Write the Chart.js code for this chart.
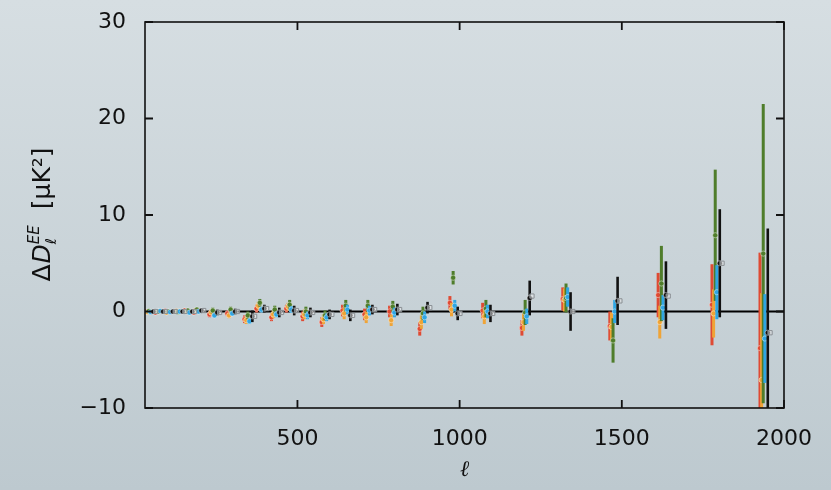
<!DOCTYPE html>
<html>
<head>
<meta charset="utf-8">
<script src="https://cdn.jsdelivr.net/npm/chart.js@4/dist/chart.umd.min.js"></script>
<style>
  html, body { margin: 0; padding: 0; }
  body {
    width: 831px; height: 490px; overflow: hidden;
    background: linear-gradient(to bottom, #d6dee2 0%, #c9d3d8 55%, #bdc9cf 100%);
  }
  #wrap { position: relative; width: 831px; height: 490px; }
</style>
</head>
<body>
<div id="wrap"><canvas id="chart" width="831" height="490"></canvas></div>
<script>
// multipole bins (centre of each group)
const ells = [47, 77, 107, 137, 167, 195, 244, 299, 352, 389, 435, 481, 531, 590,
              654, 722, 799, 892, 985, 1086, 1207, 1333, 1478, 1627, 1793, 1941];

// residuals, one array per cross-spectrum
const redVals    = [0.0, -0.1, 0.05, 0.0, 0.1, -0.1, -0.3, -0.2, -0.8, 0.3, -0.6, 0.3, -0.5, -1.1,
                    0.1, -0.3, 0.0, -1.8, 0.9, 0.1, -1.7, 1.3, -1.5, 1.7, 0.7, -3.8];
const redErr     = [0.12, 0.12, 0.12, 0.15, 0.15, 0.2, 0.3, 0.3, 0.4, 0.4, 0.4, 0.4, 0.5, 0.5,
                    0.6, 0.6, 0.6, 0.7, 0.7, 0.8, 0.8, 1.2, 1.5, 2.3, 4.2, 9.9];
const orangeVals = [-0.05, 0.0, -0.1, 0.05, 0.0, 0.1, -0.1, -0.4, -0.9, 0.6, -0.3, 0.5, -0.3, -0.8,
                    -0.2, -0.6, -0.9, -1.1, 0.2, -0.5, -1.1, 1.2, -1.6, -1.1, -0.2, -7.1];
const orangeErr  = [0.12, 0.12, 0.12, 0.15, 0.15, 0.2, 0.3, 0.3, 0.4, 0.4, 0.4, 0.4, 0.5, 0.5,
                    0.6, 0.6, 0.6, 0.7, 0.7, 0.8, 0.9, 1.2, 1.5, 1.7, 2.5, 9.0];
const greenVals  = [0.05, 0.0, 0.0, -0.05, 0.1, 0.2, 0.1, 0.2, -0.4, 0.9, 0.2, 0.7, 0.0, -0.4,
                    0.6, 0.6, 0.5, -0.2, 3.5, 0.3, -0.1, 1.4, -3.0, 2.9, 7.9, 6.0];
const greenErr   = [0.12, 0.12, 0.12, 0.15, 0.15, 0.2, 0.3, 0.3, 0.4, 0.4, 0.4, 0.5, 0.5, 0.5,
                    0.6, 0.6, 0.6, 0.7, 0.7, 0.9, 1.3, 1.5, 2.3, 3.9, 6.8, 15.5];
const blueVals   = [-0.05, 0.05, -0.05, 0.0, -0.1, 0.0, -0.4, -0.2, -1.0, 0.2, -0.3, 0.2, -0.4, -0.6,
                    0.2, 0.1, -0.1, -0.6, 0.6, 0.0, -0.5, 1.5, 0.0, 0.4, 2.0, -2.8];
const blueErr    = [0.1, 0.1, 0.1, 0.12, 0.12, 0.15, 0.25, 0.25, 0.3, 0.3, 0.3, 0.35, 0.4, 0.4,
                    0.5, 0.5, 0.5, 0.6, 0.6, 0.7, 0.8, 1.0, 1.2, 1.3, 2.8, 4.6];
const blackVals  = [0.0, 0.0, 0.0, 0.0, 0.0, 0.1, -0.1, 0.0, -0.5, 0.3, -0.1, 0.1, -0.1, -0.3,
                    -0.4, 0.2, 0.2, 0.4, -0.2, -0.2, 1.4, 0.0, 1.1, 1.7, 5.0, -2.2];
const blackErr   = [0.1, 0.1, 0.1, 0.12, 0.12, 0.15, 0.3, 0.3, 0.6, 0.4, 0.5, 0.5, 0.5, 0.5,
                    0.6, 0.5, 0.6, 0.6, 0.7, 0.9, 1.8, 2.0, 2.5, 3.5, 5.6, 10.8];
const openVals   = [0.0, 0.0, 0.0, 0.0, 0.0, 0.1, -0.1, 0.0, -0.5, 0.3, -0.1, 0.1, -0.1, -0.3,
                    -0.4, 0.2, 0.2, 0.4, -0.2, -0.2, 1.6, 0.0, 1.1, 1.6, 5.0, -2.2];

const xTicks = [500, 1000, 1500, 2000];
const yTicks = [-10, 0, 10, 20, 30];

function pts(vals, shift) {
    return vals.map((v, i) => ({ x: ells[i] + shift, y: v }));
}

function series(vals, errs, shift, color, barW) {
    return {
        data: pts(vals, shift),
        errors: errs,
        barColor: color,
        barWidth: barW,
        showLine: false,
        pointRadius: 2.6,
        pointBackgroundColor: color,
        pointBorderColor: 'rgba(255,255,255,0.55)',
        pointBorderWidth: 0.8
    };
}

// error bars drawn just before each dataset's own points
const errorBars = {
    id: 'errorBars',
    beforeDatasetDraw(chart, args) {
        const ds = chart.data.datasets[args.index];
        if (!ds.errors) return;
        const { ctx, chartArea: a, scales: { x, y } } = chart;
        ctx.save();
        ctx.beginPath();
        ctx.rect(a.left, a.top, a.right - a.left, a.bottom - a.top);
        ctx.clip();
        ctx.strokeStyle = ds.barColor;
        ctx.lineWidth = ds.barWidth;
        ds.data.forEach((p, j) => {
            const px = x.getPixelForValue(p.x);
            ctx.beginPath();
            ctx.moveTo(px, y.getPixelForValue(p.y - ds.errors[j]));
            ctx.lineTo(px, y.getPixelForValue(p.y + ds.errors[j]));
            ctx.stroke();
        });
        ctx.restore();
    }
};

// frame, inward ticks, zero line and axis titles
const frame = {
    id: 'frame',
    beforeDatasetsDraw(chart) {
        const { ctx, chartArea: a, scales: { y } } = chart;
        ctx.save();
        ctx.strokeStyle = '#000';
        ctx.lineWidth = 2.2;
        const y0 = y.getPixelForValue(0);
        ctx.beginPath();
        ctx.moveTo(a.left, y0);
        ctx.lineTo(a.right, y0);
        ctx.stroke();
        ctx.restore();
    },
    afterDraw(chart) {
        const { ctx, chartArea: a, scales: { x, y } } = chart;
        ctx.save();
        ctx.strokeStyle = '#111';
        ctx.lineWidth = 1.6;
        ctx.strokeRect(a.left, a.top, a.right - a.left, a.bottom - a.top);
        ctx.lineWidth = 1.8;
        const tl = 8;
        xTicks.forEach(v => {
            const px = x.getPixelForValue(v);
            ctx.beginPath();
            ctx.moveTo(px, a.bottom); ctx.lineTo(px, a.bottom - tl);
            ctx.moveTo(px, a.top); ctx.lineTo(px, a.top + tl);
            ctx.stroke();
        });
        yTicks.forEach(v => {
            const py = y.getPixelForValue(v);
            ctx.beginPath();
            ctx.moveTo(a.left, py); ctx.lineTo(a.left + tl, py);
            ctx.moveTo(a.right, py); ctx.lineTo(a.right - tl, py);
            ctx.stroke();
        });

        // x title
        ctx.fillStyle = '#111';
        ctx.textAlign = 'center';
        ctx.textBaseline = 'middle';
        ctx.font = 'italic 22px "DejaVu Serif"';
        ctx.fillText('ℓ', (a.left + a.right) / 2, 470);

        // y title, rotated
        ctx.translate(42, (a.top + a.bottom) / 2);
        ctx.rotate(-Math.PI / 2);
        ctx.textAlign = 'left';
        ctx.textBaseline = 'alphabetic';
        const big = '25px "DejaVu Sans"';
        const bigIt = 'oblique 25px "DejaVu Sans"';
        const small = 'oblique 15px "DejaVu Sans"';
        ctx.font = big; const wDelta = ctx.measureText('Δ').width;
        ctx.font = bigIt; const wD = ctx.measureText('D').width;
        ctx.font = small; const wEE = ctx.measureText('EE').width;
        ctx.font = big; const wUnit = ctx.measureText('[μK²]').width;
        const gap = 16;
        const total = wDelta + wD + wEE + gap + wUnit;
        let cx = -total / 2;
        const base = 8;
        ctx.font = big; ctx.fillText('Δ', cx, base); cx += wDelta + 1;
        ctx.font = bigIt; ctx.fillText('D', cx, base); cx += wD;
        ctx.font = small;
        ctx.fillText('EE', cx, base - 11);
        ctx.fillText('ℓ', cx, base + 6);
        cx += wEE + gap;
        ctx.font = big;
        ctx.fillText('[μK²]', cx, base);
        ctx.restore();
    }
};

const ctx = document.getElementById('chart');
new Chart(ctx, {
    type: 'scatter',
    data: {
        datasets: [
            {
                data: pts(openVals, 16),
                showLine: false,
                pointStyle: 'rect',
                pointRadius: 3,
                pointBackgroundColor: 'rgba(235,238,240,0.5)',
                pointBorderColor: '#8a8f93',
                pointBorderWidth: 1
            },
            series(blackVals, blackErr, 9, '#111111', 2.6),
            series(blueVals, blueErr, 0, '#2fa6e3', 3),
            series(greenVals, greenErr, -5, '#4f7d2b', 3),
            series(orangeVals, orangeErr, -10, '#efa437', 3),
            series(redVals, redErr, -15, '#df4a33', 3)
        ]
    },
    options: {
        responsive: false,
        animation: false,
        layout: { padding: { top: 22, right: 47, left: 0, bottom: 0 } },
        plugins: { legend: { display: false }, tooltip: { enabled: false } },
        scales: {
            x: {
                type: 'linear', min: 30, max: 2000,
                grid: { display: false, drawTicks: false },
                border: { display: false },
                afterBuildTicks: s => { s.ticks = xTicks.map(v => ({ value: v })); },
                afterFit: s => { s.height = 82; s.paddingLeft = 0; s.paddingRight = 0; },
                ticks: {
                    padding: 18, color: '#111', maxRotation: 0,
                    font: { family: 'DejaVu Sans', size: 22 },
                    callback: v => String(v)
                }
            },
            y: {
                type: 'linear', min: -10, max: 30,
                grid: { display: false, drawTicks: false },
                border: { display: false },
                afterBuildTicks: s => { s.ticks = yTicks.map(v => ({ value: v })); },
                afterFit: s => { s.width = 145; s.paddingTop = 0; s.paddingBottom = 0; },
                ticks: {
                    padding: 19, color: '#111',
                    font: { family: 'DejaVu Sans', size: 22 },
                    callback: v => v < 0 ? '\u2212' + Math.abs(v) : String(v)
                }
            }
        }
    },
    plugins: [errorBars, frame]
});
</script>
</body>
</html>
